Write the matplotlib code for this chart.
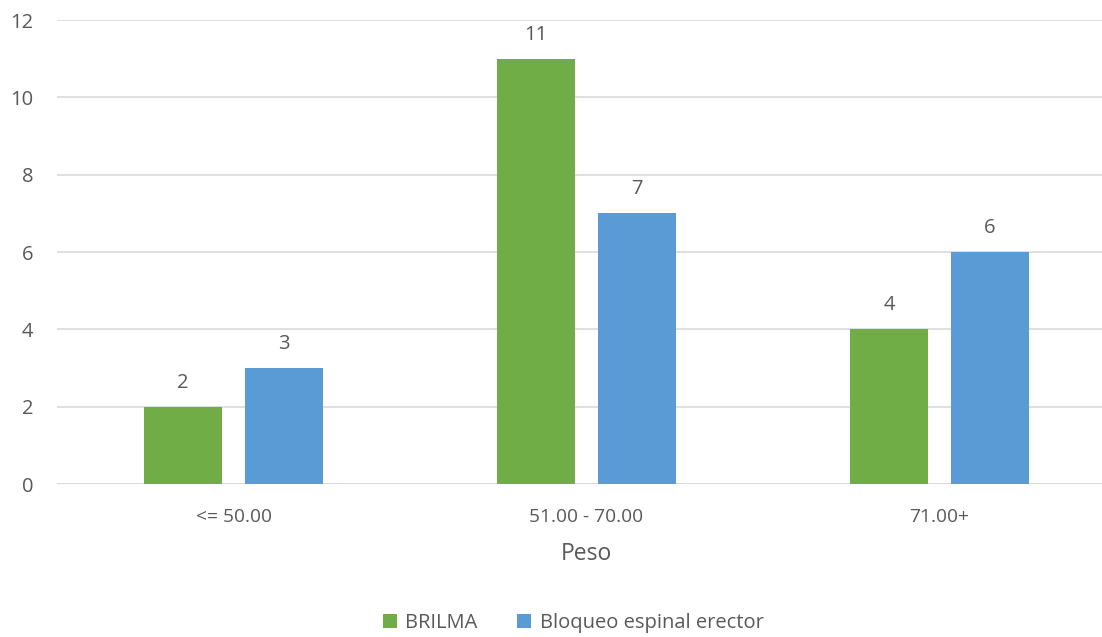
import matplotlib.pyplot as plt
import numpy as np

# Data
categories = ["<= 50.00", "51.00 - 70.00", "71.00+"]
brilma = [2, 11, 4]
bloqueo = [3, 7, 6]
series_names = ["BRILMA", "Bloqueo espinal erector"]

green = "#70AD47"
blue = "#5B9BD5"
text_color = "#595959"

plt.rcParams["font.family"] = ["Open Sans", "DejaVu Sans"]

fig = plt.figure(figsize=(11.02, 6.37), dpi=100)
ax = fig.add_axes([57 / 1102, 153 / 637, 1 - 57 / 1102, 464 / 637])

x = np.arange(len(categories))
w = 0.221
off = 0.143
b1 = ax.bar(x - off, brilma, w, color=green, label=series_names[0], zorder=3)
b2 = ax.bar(x + off, bloqueo, w, color=blue, label=series_names[1], zorder=3)

for bars in (b1, b2):
    for rect in bars:
        h = rect.get_height()
        ax.text(rect.get_x() + rect.get_width() / 2, h + 0.36, f"{h:g}",
                ha="center", va="bottom", fontsize=14.5, color=text_color)

ax.set_xlim(-0.5, (1102 - 233.5) / 353)
ax.set_ylim(0, 12)
ax.set_yticks(range(0, 13, 2))
ax.yaxis.grid(True, color="#D9D9D9", linewidth=1.2, zorder=0)
ax.set_xticks(x)
ax.set_xticklabels(categories)
ax.tick_params(axis="both", length=0, colors=text_color)
ax.tick_params(axis="x", pad=17, labelsize=13.8)
ax.tick_params(axis="y", pad=17, labelsize=14.5)
for s in ax.spines.values():
    s.set_visible(False)
ax.axhline(0, color="#D9D9D9", linewidth=1.2, zorder=2)

fig.text(586 / 1102, 1 - 554 / 637, "Peso", ha="center", va="center",
         fontsize=16.5, color=text_color)

leg = fig.legend(loc="center", bbox_to_anchor=(573 / 1102, 1 - 623 / 637), ncol=2,
                 frameon=False, fontsize=14.5, handlelength=0.7, handleheight=0.7,
                 handletextpad=0.4, columnspacing=2.0)
for t in leg.get_texts():
    t.set_color(text_color)

plt.savefig("out.png", dpi=100)
